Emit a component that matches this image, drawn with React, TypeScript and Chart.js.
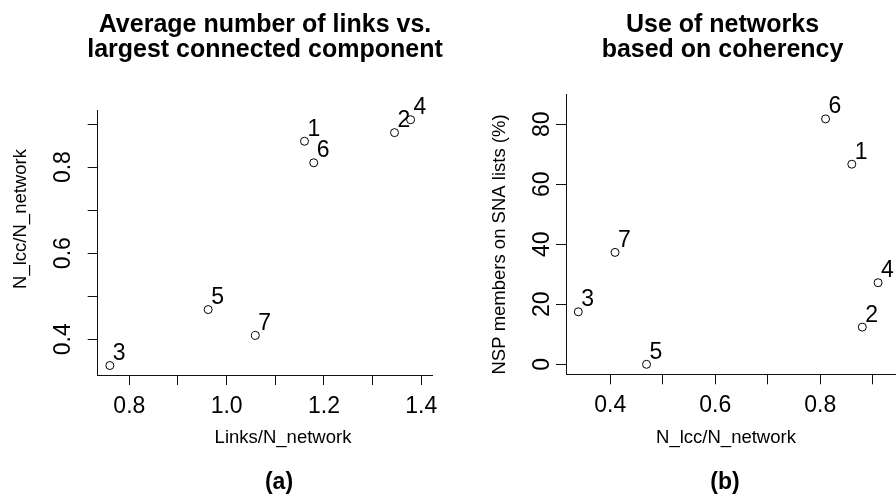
import React, { useEffect, useRef } from "react";
import { Chart, registerables } from "chart.js";

Chart.register(...registerables);

const FONT = "'Liberation Sans', Arial, Helvetica, sans-serif";

// ---- data ----
const pointIds = ["1", "2", "3", "4", "5", "6", "7"];
const linksPerNetwork = [1.16, 1.345, 0.76, 1.378, 0.962, 1.179, 1.059];
const lccPerNetwork = [0.86, 0.88, 0.339, 0.91, 0.469, 0.81, 0.409];
const nspOnSnaLists = [66.7, 12.4, 17.5, 27.2, 0, 81.8, 37.3];

// ---- ticks ----
const leftXTicks = [0.8, 0.9, 1.0, 1.1, 1.2, 1.3, 1.4];
const leftXTickLabels = ["0.8", "", "1.0", "", "1.2", "", "1.4"];
const leftYTicks = [0.4, 0.5, 0.6, 0.7, 0.8, 0.9];
const leftYTickLabels = ["0.4", "", "0.6", "", "0.8", ""];
const rightXTicks = [0.4, 0.5, 0.6, 0.7, 0.8, 0.9];
const rightXTickLabels = ["0.4", "", "0.6", "", "0.8", ""];
const rightYTicks = [0, 20, 40, 60, 80];
const rightYTickLabels = ["0", "20", "40", "60", "80"];

// ---- texts ----
const leftTitle = ["Average number of links vs.", "largest connected component"];
const rightTitle = ["Use of networks", "based on coherency"];
const leftXTitle = "Links/N_network";
const leftYTitle = "N_lcc/N_network";
const rightXTitle = "N_lcc/N_network";
const rightYTitle = "NSP members on SNA lists (%)";
const leftPanel = "(a)";
const rightPanel = "(b)";

type TextItem = { text: string; x: number; y: number; font: string; rotate?: boolean; stretch?: number };

const textPlugin = {
  id: "panelText",
  afterDraw(chart: any, _args: any, opts: any) {
    const ctx = chart.ctx;
    const items: TextItem[] = opts.items || [];
    ctx.save();
    ctx.fillStyle = "#000";
    ctx.textAlign = "center";
    ctx.textBaseline = "alphabetic";
    for (const it of items) {
      ctx.font = it.font;
      ctx.save();
      ctx.translate(it.x, it.y);
      if (it.rotate) ctx.rotate(-Math.PI / 2);
      if (it.stretch) ctx.scale(1, it.stretch);
      ctx.fillText(it.text, 0, 0);
      ctx.restore();
    }
    ctx.restore();
  },
};

const pointLabelPlugin = {
  id: "pointLabels",
  afterDatasetsDraw(chart: any) {
    const ctx = chart.ctx;
    const meta = chart.getDatasetMeta(0);
    ctx.save();
    ctx.font = `23px ${FONT}`;
    ctx.fillStyle = "#000";
    ctx.textAlign = "left";
    ctx.textBaseline = "alphabetic";
    meta.data.forEach((el: any, i: number) => {
      ctx.fillText(pointIds[i], el.x + 3, el.y - 5.5);
    });
    ctx.restore();
  },
};

function axis(
  ticks: number[],
  labels: string[],
  min: number,
  max: number,
  size: number,
  isX: boolean,
  pad: number
) {
  return {
    type: "linear",
    min,
    max,
    bounds: "data",
    afterBuildTicks: (s: any) => {
      s.ticks = ticks.map((v) => ({ value: v }));
    },
    afterFit: (s: any) => {
      if (isX) s.height = size;
      else s.width = size;
    },
    grid: {
      display: true,
      drawOnChartArea: false,
      drawTicks: true,
      tickLength: 10,
      color: "#111",
      lineWidth: 1,
    },
    border: { display: true, color: "#111", width: 1 },
    ticks: {
      autoSkip: false,
      color: "#000",
      font: { family: FONT, size: 23 },
      padding: pad,
      callback: (_v: any, i: number) => labels[i] ?? "",
      ...(isX
        ? { minRotation: 0, maxRotation: 0 }
        : { minRotation: 90, maxRotation: 90, crossAlign: "center" }),
    },
  };
}

function makeConfig(
  xs: number[],
  ys: number[],
  scales: any,
  padding: any,
  items: TextItem[]
): any {
  return {
    type: "scatter",
    data: {
      datasets: [
        {
          data: xs.map((x, i) => ({ x, y: ys[i] })),
          pointStyle: "circle",
          pointRadius: 4,
          pointHoverRadius: 4,
          borderWidth: 1,
          borderColor: "#000",
          backgroundColor: "rgba(0,0,0,0)",
          showLine: false,
          clip: false,
        },
      ],
    },
    options: {
      responsive: false,
      animation: false,
      events: [],
      devicePixelRatio: 1,
      layout: { padding },
      scales,
      plugins: {
        legend: { display: false },
        tooltip: { enabled: false },
        title: { display: false },
        panelText: { items },
      },
    },
    plugins: [textPlugin, pointLabelPlugin],
  };
}

const CANVAS_H = 499;

function Panel({ left, width, build }: { left: number; width: number; build: () => any }) {
  const ref = useRef<HTMLCanvasElement | null>(null);
  useEffect(() => {
    if (!ref.current) return;
    const chart = new Chart(ref.current, build());
    return () => chart.destroy();
  }, []);
  return (
    <canvas
      ref={ref}
      width={width}
      height={CANVAS_H}
      style={{ position: "absolute", left, top: 0, width, height: CANVAS_H }}
    />
  );
}

const titleFont = `bold 25px ${FONT}`;
const axisFont = `18.5px ${FONT}`;
const panelFont = `bold 23px ${FONT}`;

function buildLeft() {
  return makeConfig(
    linksPerNetwork,
    lccPerNetwork,
    {
      x: axis(leftXTicks, leftXTickLabels, 0.735, 1.422, 124, true, 8),
      y: axis(leftYTicks, leftYTickLabels, 0.317, 0.9326, 97.7, false, 8.2),
    },
    { left: 0, right: 16, top: 110, bottom: 0 },
    [
      { text: leftTitle[0], x: 265, y: 32, font: titleFont, stretch: 1.06 },
      { text: leftTitle[1], x: 265, y: 57, font: titleFont, stretch: 1.06 },
      { text: leftXTitle, x: 283, y: 443, font: axisFont },
      { text: leftYTitle, x: 26, y: 219, font: axisFont, rotate: true },
      { text: leftPanel, x: 279, y: 489, font: panelFont, stretch: 1.06 },
    ]
  );
}

function buildRight() {
  return makeConfig(
    lccPerNetwork,
    nspOnSnaLists,
    {
      x: axis(rightXTicks, rightXTickLabels, 0.3156, 0.948, 124.7, true, 8),
      y: axis(rightYTicks, rightYTickLabels, -3.33, 89.87, 118, false, 0.7),
    },
    { left: 0, right: 30, top: 94.7, bottom: 0 },
    [
      { text: rightTitle[0], x: 274.5, y: 32, font: titleFont, stretch: 1.06 },
      { text: rightTitle[1], x: 274.5, y: 57, font: titleFont, stretch: 1.06 },
      { text: rightXTitle, x: 278, y: 443, font: axisFont },
      { text: rightYTitle, x: 57, y: 244.5, font: axisFont, rotate: true },
      { text: rightPanel, x: 277, y: 489, font: panelFont, stretch: 1.06 },
    ]
  );
}

export default function App() {
  return (
    <div
      style={{
        position: "fixed",
        left: 0,
        top: 0,
        width: 896,
        height: 499,
        overflow: "hidden",
        background: "#fff",
      }}
    >
      <Panel left={0} width={448} build={buildLeft} />
      <Panel left={448} width={480} build={buildRight} />
    </div>
  );
}
